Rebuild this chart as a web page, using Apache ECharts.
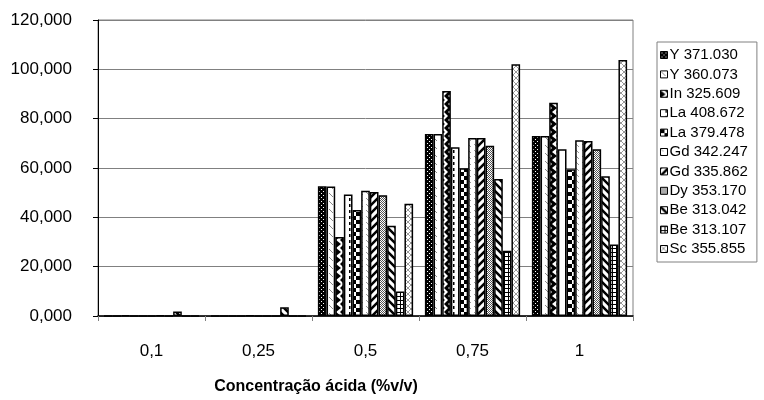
<!DOCTYPE html>
<html>
<head>
<meta charset="utf-8">
<script src="https://cdn.jsdelivr.net/npm/echarts@6/dist/echarts.min.js"></script>
<style>
  html, body { margin: 0; padding: 0; background: #fff; }
  #chart { width: 764px; height: 400px; }
</style>
</head>
<body>
<div id="chart"></div>
<script>
// Concentrations of acid (categories)
const categories = ['0,1', '0,25', '0,5', '0,75', '1'];

// Emission lines (series names)
const seriesNames = [
  'Y 371.030', 'Y 360.073', 'In 325.609', 'La 408.672', 'La 379.478',
  'Gd 342.247', 'Gd 335.862', 'Dy 353.170', 'Be 313.042', 'Be 313.107', 'Sc 355.855'
];

// Signal values per emission line, one value per concentration
const y371 = [100, 100, 52600, 73800, 73000];
const y360 = [100, 100, 52500, 73800, 73000];
const in325 = [300, 100, 32000, 91200, 86500];
const la408 = [100, 100, 49300, 68400, 67600];
const la379 = [100, 200, 43000, 59900, 59500];
const gd342 = [100, 100, 50800, 72200, 71300];
const gd335 = [300, 100, 50300, 72200, 70900];
const dy353 = [100, 100, 49000, 69000, 67600];
const be313a = [1800, 3500, 36600, 55500, 56700];
const be313b = [100, 100, 9900, 26500, 29000];
const sc355 = [100, 100, 45500, 102100, 103800];

// Y-axis tick labels
const yTickLabels = ['0,000', '20,000', '40,000', '60,000', '80,000', '100,000', '120,000'];

const seriesValues = [y371, y360, in325, la408, la379, gd342, gd335, dy353, be313a, be313b, sc355];

// ---- fill patterns for the bars ----
function pattern(w, h, bg, draw) {
  const c = document.createElement('canvas');
  c.width = w; c.height = h;
  const g = c.getContext('2d');
  g.fillStyle = bg;
  g.fillRect(0, 0, w, h);
  draw(g, w, h);
  return { image: c, repeat: 'repeat' };
}
function diag(g, w, h, dir, color, lw) {
  g.strokeStyle = color; g.lineWidth = lw;
  g.beginPath();
  if (dir > 0) { // "/"
    g.moveTo(-1, h + 1); g.lineTo(w + 1, -1);
    g.moveTo(-1, 1); g.lineTo(1, -1);
    g.moveTo(w - 1, h + 1); g.lineTo(w + 1, h - 1);
  } else { // "\"
    g.moveTo(-1, -1); g.lineTo(w + 1, h + 1);
    g.moveTo(-1, h - 1); g.lineTo(1, h + 1);
    g.moveTo(w - 1, -1); g.lineTo(w + 1, 1);
  }
  g.stroke();
}

const fills = [
  // dark with white dots
  pattern(4, 4, '#000', g => { g.fillStyle = '#fff'; g.fillRect(1, 1, 1, 1); g.fillRect(3, 3, 1, 1); }),
  // white with small grey dashes
  pattern(8, 8, '#fff', g => {
    g.strokeStyle = '#888'; g.lineWidth = 1;
    g.beginPath(); g.moveTo(1, 1); g.lineTo(5, 5); g.stroke();
  }),
  // black triangles
  pattern(8, 8, '#fff', g => {
    g.fillStyle = '#000';
    g.beginPath(); g.moveTo(0, 0); g.lineTo(5, 4); g.lineTo(0, 8); g.closePath(); g.fill();
    g.beginPath(); g.moveTo(8, -4); g.lineTo(4, 0); g.lineTo(8, 4); g.closePath(); g.fill();
    g.beginPath(); g.moveTo(8, 4); g.lineTo(4, 8); g.lineTo(8, 12); g.closePath(); g.fill();
  }),
  // vertical dashes
  pattern(8, 6, '#fff', g => { g.fillStyle = '#000'; g.fillRect(5, 0, 1.5, 3); }),
  // large checker
  pattern(8, 8, '#fff', g => { g.fillStyle = '#000'; g.fillRect(0, 0, 4, 4); g.fillRect(4, 4, 4, 4); }),
  // white with grey dashes
  pattern(6, 6, '#fff', g => {
    g.strokeStyle = '#999'; g.lineWidth = 1;
    g.beginPath(); g.moveTo(0, 0); g.lineTo(3, 3); g.stroke();
  }),
  // heavy "/" stripes
  pattern(8, 8, '#fff', (g, w, h) => diag(g, w, h, 1, '#000', 2.5)),
  // fine grey
  pattern(2, 2, '#fff', g => { g.fillStyle = '#555'; g.fillRect(0, 0, 1, 1); g.fillRect(1, 1, 1, 1); }),
  // heavy "\" stripes
  pattern(8, 8, '#fff', (g, w, h) => diag(g, w, h, -1, '#000', 2.5)),
  // small grid
  pattern(4, 4, '#fff', g => { g.fillStyle = '#000'; g.fillRect(0, 0, 4, 1); g.fillRect(0, 0, 1, 4); }),
  // light grey lattice
  pattern(6, 6, '#fff', (g, w, h) => { diag(g, w, h, 1, '#999', 1); diag(g, w, h, -1, '#999', 1); })
];

const chart = echarts.init(document.getElementById('chart'), null, { renderer: 'canvas' });

const font = 'Liberation Sans, Arial, sans-serif';

chart.setOption({
  animation: false,
  backgroundColor: '#fff',
  textStyle: { fontFamily: font },
  grid: {
    left: 98, right: 131, top: 20, bottom: 84,
    show: true, borderColor: '#808080', borderWidth: 1
  },
  legend: {
    orient: 'vertical',
    left: 657, top: 42,
    data: seriesNames,
    icon: 'rect',
    itemWidth: 7, itemHeight: 7, itemGap: 3.4,
    padding: [5, 9, 5, 3],
    borderColor: '#808080', borderWidth: 1,
    textStyle: { fontFamily: font, fontSize: 15, color: '#000', padding: [0, 0, 0, -3], lineHeight: 16 },
    itemStyle: { borderColor: '#000', borderWidth: 1 }
  },
  xAxis: {
    type: 'category',
    data: categories,
    axisLine: { lineStyle: { color: '#000', width: 1.5 } },
    axisTick: { show: true, length: 5, lineStyle: { color: '#808080' } },
    axisLabel: { color: '#000', fontSize: 17, fontFamily: font, margin: 27 }
  },
  yAxis: {
    type: 'value',
    min: 0, max: 120000, interval: 20000,
    axisLine: { show: true, lineStyle: { color: '#000', width: 1 } },
    axisTick: { show: true, length: 5, lineStyle: { color: '#000' } },
    axisLabel: {
      color: '#000', fontSize: 17, fontFamily: font, margin: 26,
      formatter: v => yTickLabels[Math.round(v / 20000)]
    },
    splitLine: { lineStyle: { color: '#808080', width: 1 } }
  },
  series: seriesNames.map((name, i) => ({
    name,
    type: 'bar',
    data: seriesValues[i],
    barGap: '0%',
    barCategoryGap: '11%',
    itemStyle: { color: fills[i], borderColor: '#000', borderWidth: 1.5 }
  })),
  graphic: [{
    type: 'text',
    x: 316, y: 387,
    style: {
      text: 'Concentração ácida (%v/v)',
      font: 'bold 16px ' + font,
      fill: '#000',
      align: 'center',
      verticalAlign: 'middle'
    }
  }]
});
</script>
</body>
</html>
